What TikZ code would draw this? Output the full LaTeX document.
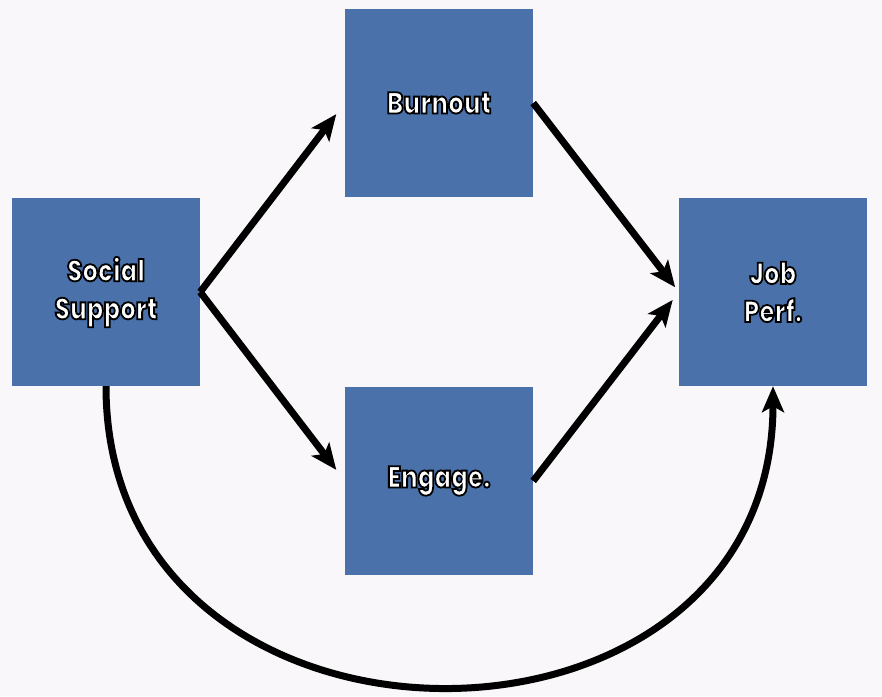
\documentclass[tikz,border=0pt]{standalone}
\usepackage{fontspec}
\IfFontExistsTF{Poppins ExtraBold}
  {\setmainfont{Poppins}[FakeStretch=0.82, BoldFont={Poppins ExtraBold}]}
  {\setmainfont{Poppins}[FakeStretch=0.82]}
\usetikzlibrary{arrows.meta}
\definecolor{bgcol}{HTML}{F9F7F9}
\definecolor{boxcol}{HTML}{4A71A9}
% white letters with a black outline (text render mode 2)
\newcommand{\boxtext}[1]{\textcolor{white}{\special{pdf:literal direct 2 Tr 1.8 w 0 G}#1\special{pdf:literal direct 0 Tr}}}
\begin{document}
\begin{tikzpicture}[x=1pt,y=-1pt,
    box/.style={fill=boxcol, minimum width=188pt, minimum height=188pt,
      inner sep=0pt, align=center, font=\fontsize{30}{38}\selectfont\bfseries},
    link/.style={line width=7pt, -{Stealth[length=26pt,width=22pt,inset=6pt]}}]
    \fill[bgcol] (0,0) rectangle (882,696);
    \useasboundingbox (0,0) rectangle (882,696);
    \node[box] (social) at (106,292) {\boxtext{Social}\\\boxtext{Support}};
    \node[box] (burnout) at (439,103) {\boxtext{Burnout}};
    \node[box] (engage) at (439,481) {\boxtext{Engage.}};
    \node[box] (jobperf) at (773,292) {\boxtext{Job}\\\boxtext{Perf.}};
    \draw[link, shorten >=14pt] (social.east) -- (burnout.west);
    \draw[link, shorten >=14pt] (social.east) -- (engage.west);
    \draw[link, shorten >=6pt] (burnout.east) -- (jobperf.west);
    \draw[link, shorten >=10pt] (engage.east) -- (jobperf.west);
    \draw[link] (social.south) .. controls +(0,400) and +(0,400) .. (jobperf.south);
  \end{tikzpicture}
\end{document}
